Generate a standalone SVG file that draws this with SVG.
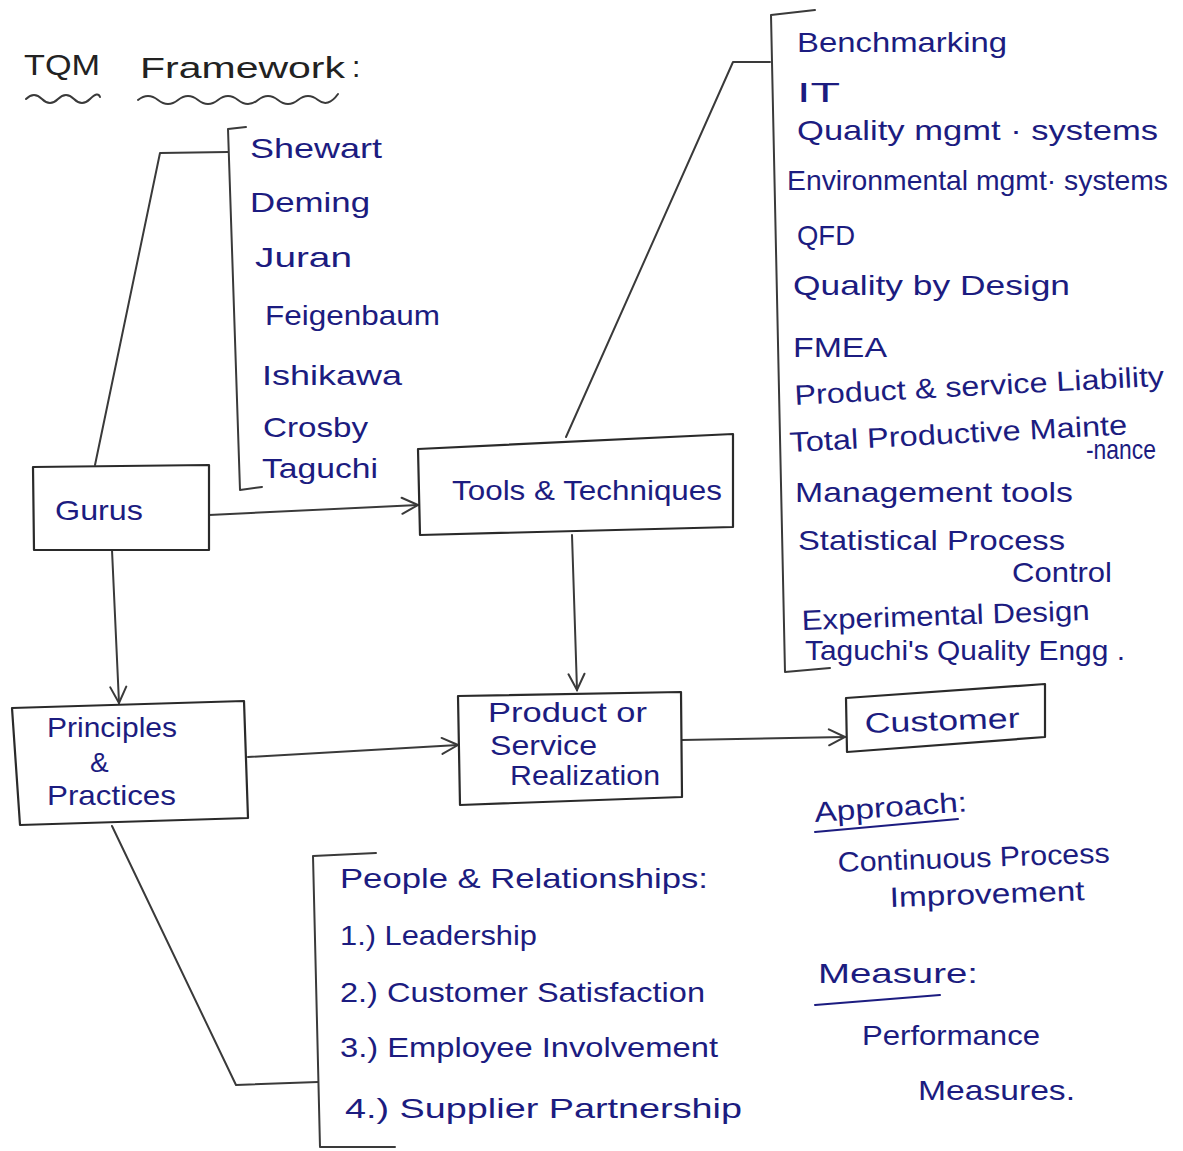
<svg xmlns="http://www.w3.org/2000/svg" width="1183" height="1151" viewBox="0 0 1183 1151">
  <style>
    .ink { fill: #1c1c80; font-family: "Liberation Sans", "DejaVu Sans", sans-serif; font-size: 28px; }
    .title { fill: #222; font-family: "Liberation Sans", "DejaVu Sans", sans-serif; font-size: 30px; }
    .line { fill: none; stroke: #3a3a3a; stroke-width: 2; stroke-linecap: round; stroke-linejoin: round; }
    .box { fill: none; stroke: #2a2a2a; stroke-width: 2.2; stroke-linejoin: round; }
    .under { fill: none; stroke: #1c1c80; stroke-width: 2; stroke-linecap: round; }
  </style>
  <defs>
    <marker id="arrow" viewBox="0 0 20 20" refX="18" refY="10" markerWidth="20" markerHeight="20" markerUnits="userSpaceOnUse" orient="auto">
      <path d="M2,2 L18,10 L2,18" fill="none" stroke="#3a3a3a" stroke-width="2" stroke-linecap="round"/>
    </marker>
  </defs>
  <rect width="1183" height="1151" fill="#ffffff"/>

  <!-- heading -->
  <g id="title">
    <text class="title" x="24" y="75" textLength="76" lengthAdjust="spacingAndGlyphs">TQM</text>
    <text class="title" x="140" y="78" textLength="205" lengthAdjust="spacingAndGlyphs">Framework</text>
    <text class="title" x="352" y="77">:</text>
    <path class="line" d="M26,99 q8,-8 16,0 t16,0 t16,0 t16,0 t10,-2"/>
    <path class="line" d="M138,100 q10,-8 20,0 t20,0 t20,0 t20,0 t20,0 t20,0 t20,0 t20,0 t20,0 t20,-6"/>
  </g>

  <!-- connectors -->
  <g id="connectors">
    <path class="line" d="M95,465 L160,153 L228,152"/>
    <path class="line" d="M209,515 L418,505" marker-end="url(#arrow)"/>
    <path class="line" d="M112,550 L119,703" marker-end="url(#arrow)"/>
    <path class="line" d="M566,437 L733,62 L770,62"/>
    <path class="line" d="M572,535 L577,690" marker-end="url(#arrow)"/>
    <path class="line" d="M248,757 L458,745" marker-end="url(#arrow)"/>
    <path class="line" d="M682,740 L845,737" marker-end="url(#arrow)"/>
    <path class="line" d="M112,826 L236,1085 L318,1082"/>
  </g>

  <!-- list brackets -->
  <g id="brackets">
    <path class="line" d="M246,127 L228,129 L240,490 L262,487"/>
    <path class="line" d="M815,10 L771,15 L785,672 L830,668"/>
    <path class="line" d="M376,853 L313,856 L320,1147 L395,1147"/>
  </g>

  <g id="gurus">
    <path class="box" d="M33,467 L209,465 L209,550 L34,550 Z"/>
    <text class="ink" x="55" y="520" textLength="88" lengthAdjust="spacingAndGlyphs">Gurus</text>
  </g>

  <g id="guru-list">
    <text class="ink" x="250" y="158" textLength="132" lengthAdjust="spacingAndGlyphs">Shewart</text>
    <text class="ink" x="250" y="212" textLength="120" lengthAdjust="spacingAndGlyphs">Deming</text>
    <text class="ink" x="255" y="267" textLength="97" lengthAdjust="spacingAndGlyphs">Juran</text>
    <text class="ink" x="265" y="325" textLength="175" lengthAdjust="spacingAndGlyphs">Feigenbaum</text>
    <text class="ink" x="262" y="385" textLength="140" lengthAdjust="spacingAndGlyphs">Ishikawa</text>
    <text class="ink" x="263" y="437" textLength="105" lengthAdjust="spacingAndGlyphs">Crosby</text>
    <text class="ink" x="262" y="478" textLength="116" lengthAdjust="spacingAndGlyphs">Taguchi</text>
  </g>

  <g id="tools">
    <path class="box" d="M418,449 L733,434 L733,527 L420,535 Z"/>
    <text class="ink" x="452" y="500" font-size="32" textLength="270" lengthAdjust="spacingAndGlyphs">Tools &amp; Techniques</text>
  </g>

  <g id="tool-list">
    <text class="ink" x="797" y="52" textLength="210" lengthAdjust="spacingAndGlyphs">Benchmarking</text>
    <text class="ink" x="797" y="102" textLength="43" lengthAdjust="spacingAndGlyphs">IT</text>
    <text class="ink" x="797" y="140" textLength="361" lengthAdjust="spacingAndGlyphs">Quality mgmt · systems</text>
    <text class="ink" x="787" y="190" textLength="381" lengthAdjust="spacingAndGlyphs">Environmental mgmt· systems</text>
    <text class="ink" x="797" y="245" font-size="26" textLength="58" lengthAdjust="spacingAndGlyphs">QFD</text>
    <text class="ink" x="793" y="295" textLength="277" lengthAdjust="spacingAndGlyphs">Quality by Design</text>
    <text class="ink" x="793" y="357" font-size="26" textLength="94" lengthAdjust="spacingAndGlyphs">FMEA</text>
    <text class="ink" x="795" y="405" transform="rotate(-3 795 405)" textLength="370" lengthAdjust="spacingAndGlyphs">Product &amp; service Liability</text>
    <text class="ink" x="790" y="452" transform="rotate(-3 790 452)" textLength="338" lengthAdjust="spacingAndGlyphs">Total Productive Mainte</text>
    <text class="ink" x="1086" y="459" font-size="19" textLength="70" lengthAdjust="spacingAndGlyphs">-nance</text>
    <text class="ink" x="795" y="502" textLength="278" lengthAdjust="spacingAndGlyphs">Management tools</text>
    <text class="ink" x="798" y="550" textLength="267" lengthAdjust="spacingAndGlyphs">Statistical Process</text>
    <text class="ink" x="1012" y="582" textLength="100" lengthAdjust="spacingAndGlyphs">Control</text>
    <text class="ink" x="802" y="630" transform="rotate(-2 802 630)" textLength="288" lengthAdjust="spacingAndGlyphs">Experimental Design</text>
    <text class="ink" x="805" y="660" textLength="320" lengthAdjust="spacingAndGlyphs">Taguchi's Quality Engg .</text>
  </g>

  <g id="principles">
    <path class="box" d="M12,708 L244,701 L248,818 L20,825 Z"/>
    <text class="ink" x="47" y="737" textLength="130" lengthAdjust="spacingAndGlyphs">Principles</text>
    <text class="ink" x="90" y="772">&amp;</text>
    <text class="ink" x="47" y="805" textLength="129" lengthAdjust="spacingAndGlyphs">Practices</text>
  </g>

  <g id="product">
    <path class="box" d="M458,696 L681,692 L682,797 L460,805 Z"/>
    <text class="ink" x="488" y="722" textLength="159" lengthAdjust="spacingAndGlyphs">Product  or</text>
    <text class="ink" x="490" y="755" textLength="107" lengthAdjust="spacingAndGlyphs">Service</text>
    <text class="ink" x="510" y="785" textLength="150" lengthAdjust="spacingAndGlyphs">Realization</text>
  </g>

  <g id="customer">
    <path class="box" d="M846,698 L1045,684 L1045,737 L847,752 Z"/>
    <text class="ink" x="865" y="733" transform="rotate(-2 865 733)" textLength="155" lengthAdjust="spacingAndGlyphs">Customer</text>
  </g>

  <g id="approach">
    <text class="ink" x="815" y="822" transform="rotate(-4 815 822)" textLength="153" lengthAdjust="spacingAndGlyphs">Approach:</text>
    <path class="under" d="M815,832 L958,819"/>
    <text class="ink" x="838" y="872" transform="rotate(-2 838 872)" textLength="272" lengthAdjust="spacingAndGlyphs">Continuous Process</text>
    <text class="ink" x="890" y="907" transform="rotate(-2 890 907)" textLength="195" lengthAdjust="spacingAndGlyphs">Improvement</text>
  </g>

  <g id="measure">
    <text class="ink" x="818" y="983" textLength="160" lengthAdjust="spacingAndGlyphs">Measure:</text>
    <path class="under" d="M815,1005 L940,995"/>
    <text class="ink" x="862" y="1045" textLength="178" lengthAdjust="spacingAndGlyphs">Performance</text>
    <text class="ink" x="918" y="1100" textLength="157" lengthAdjust="spacingAndGlyphs">Measures.</text>
  </g>

  <g id="people">
    <text class="ink" x="340" y="888" textLength="368" lengthAdjust="spacingAndGlyphs">People &amp; Relationships:</text>
    <text class="ink" x="340" y="945" textLength="197" lengthAdjust="spacingAndGlyphs">1.) Leadership</text>
    <text class="ink" x="340" y="1002" textLength="365" lengthAdjust="spacingAndGlyphs">2.) Customer Satisfaction</text>
    <text class="ink" x="340" y="1057" textLength="378" lengthAdjust="spacingAndGlyphs">3.) Employee Involvement</text>
    <text class="ink" x="345" y="1118" textLength="397" lengthAdjust="spacingAndGlyphs">4.) Supplier Partnership</text>
  </g>
</svg>
